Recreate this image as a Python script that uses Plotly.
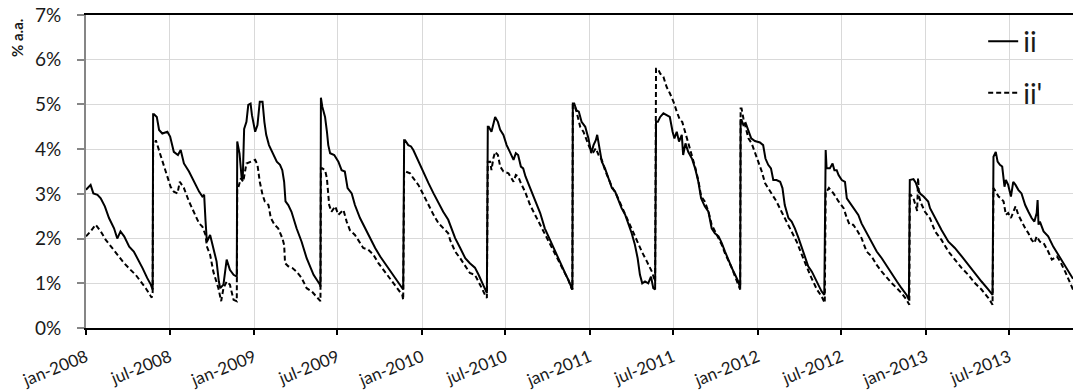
import plotly.graph_objects as go

# ---- series "ii" (solid) ----
ii_dates = [
    "2008-01-01","2008-01-11","2008-01-17","2008-01-26","2008-02-02","2008-02-11","2008-02-20","2008-03-02","2008-03-09","2008-03-16","2008-03-24","2008-04-04","2008-04-14","2008-04-22","2008-05-03","2008-05-13","2008-05-21","2008-05-25",
    "2008-05-26","2008-05-28","2008-06-03","2008-06-08","2008-06-15","2008-06-26","2008-07-02","2008-07-10","2008-07-19","2008-07-25","2008-08-01","2008-08-12","2008-08-23","2008-09-03","2008-09-10","2008-09-14","2008-09-17","2008-09-20","2008-09-27","2008-10-04","2008-10-11","2008-10-16","2008-10-19","2008-10-26","2008-11-02","2008-11-09","2008-11-17","2008-11-24",
    "2008-11-25","2008-11-30","2008-12-05","2008-12-07","2008-12-10","2008-12-15","2008-12-19","2008-12-24","2008-12-27","2009-01-03","2009-01-08","2009-01-13","2009-01-19","2009-01-23","2009-01-27","2009-02-02","2009-02-12","2009-02-19","2009-02-26","2009-03-03","2009-03-07","2009-03-10","2009-03-16","2009-03-23","2009-04-03","2009-04-14","2009-04-25","2009-05-02","2009-05-10","2009-05-17","2009-05-24","2009-05-25",
    "2009-05-26","2009-05-29","2009-06-04","2009-06-08","2009-06-11","2009-06-15","2009-06-24","2009-07-03","2009-07-10","2009-07-17","2009-07-23","2009-08-01","2009-08-08","2009-08-19","2009-08-30","2009-09-10","2009-09-21","2009-10-02","2009-10-12","2009-10-23","2009-11-03","2009-11-14","2009-11-21",
    "2009-11-23","2009-11-25","2009-12-02","2009-12-08","2009-12-13","2009-12-24","2010-01-04","2010-01-15","2010-01-26","2010-02-06","2010-02-16","2010-02-27","2010-03-03","2010-03-14","2010-03-25","2010-04-05","2010-04-15","2010-04-26","2010-05-04","2010-05-11","2010-05-18","2010-05-22",
    "2010-05-24","2010-05-26","2010-06-01","2010-06-05","2010-06-09","2010-06-15","2010-06-20","2010-06-27","2010-07-04","2010-07-11","2010-07-19","2010-07-24","2010-07-29","2010-08-04","2010-08-09","2010-08-14","2010-08-24","2010-09-04","2010-09-15","2010-09-25","2010-10-06","2010-10-17","2010-10-28","2010-11-08","2010-11-15","2010-11-22","2010-11-24",
    "2010-11-25","2010-11-28","2010-12-03","2010-12-08","2010-12-14","2010-12-22","2010-12-29","2011-01-04","2011-01-09","2011-01-14","2011-01-17","2011-01-22","2011-01-27","2011-02-03","2011-02-10","2011-02-18","2011-02-25","2011-03-03","2011-03-11","2011-03-19","2011-03-26","2011-04-02","2011-04-09","2011-04-15","2011-04-20","2011-04-25","2011-05-01","2011-05-08","2011-05-14","2011-05-19","2011-05-23",
    "2011-05-25","2011-05-29","2011-06-03","2011-06-10","2011-06-17","2011-06-24","2011-06-30","2011-07-04","2011-07-09","2011-07-14","2011-07-20","2011-07-23","2011-07-28","2011-08-03","2011-08-11","2011-08-18","2011-08-25","2011-08-31","2011-09-08","2011-09-16","2011-09-23","2011-09-30","2011-10-08","2011-10-15","2011-10-22","2011-10-29","2011-11-06","2011-11-13","2011-11-20","2011-11-24",
    "2011-11-25","2011-11-27","2011-12-01","2011-12-06","2011-12-12","2011-12-18","2011-12-26","2012-01-06","2012-01-13","2012-01-18","2012-01-24","2012-01-30","2012-02-04","2012-02-11","2012-02-19","2012-02-24","2012-02-29","2012-03-08","2012-03-15","2012-03-22","2012-03-30","2012-04-06","2012-04-13","2012-04-20","2012-04-28","2012-05-09","2012-05-19","2012-05-25",
    "2012-05-28","2012-05-30","2012-06-06","2012-06-12","2012-06-16","2012-06-21","2012-06-25","2012-07-02","2012-07-09","2012-07-13","2012-07-20","2012-07-27","2012-08-07","2012-08-14","2012-08-25","2012-09-05","2012-09-16","2012-09-27","2012-10-08","2012-10-19","2012-10-30","2012-11-09","2012-11-20","2012-11-25",
    "2012-11-27","2012-12-05","2012-12-10","2012-12-15","2012-12-20","2012-12-27","2013-01-06","2013-01-10","2013-01-21","2013-02-04","2013-02-19","2013-03-05","2013-03-20","2013-04-03","2013-04-18","2013-05-02","2013-05-17","2013-05-26",
    "2013-05-28","2013-06-02","2013-06-06","2013-06-11","2013-06-16","2013-06-21","2013-06-24","2013-06-29","2013-07-05","2013-07-10","2013-07-15","2013-07-21","2013-07-28","2013-08-05","2013-08-12","2013-08-19","2013-08-25","2013-08-30","2013-09-01","2013-09-03","2013-09-06","2013-09-14","2013-09-24","2013-10-05","2013-10-16","2013-10-27","2013-11-07","2013-11-17",
]
ii_values = [
    3.09,3.20,3.01,2.98,2.90,2.72,2.46,2.23,2.00,2.16,2.05,1.82,1.71,1.56,1.34,1.12,0.97,0.86,
    4.78,4.78,4.72,4.43,4.35,4.39,4.28,3.94,3.87,3.98,3.68,3.50,3.27,3.05,2.94,2.98,2.40,1.93,2.08,1.79,1.49,1.04,0.89,0.97,1.53,1.30,1.19,1.15,
    4.17,3.90,3.31,3.35,4.45,4.61,4.99,5.02,4.76,4.39,4.54,5.06,5.06,4.61,4.32,4.09,3.87,3.72,3.65,3.53,3.27,2.83,2.75,2.60,2.23,1.93,1.56,1.38,1.19,1.08,0.97,0.92,
    5.15,4.95,4.72,4.40,4.09,3.91,3.87,3.72,3.53,3.50,3.13,3.01,2.75,2.46,2.23,2.01,1.79,1.60,1.45,1.30,1.12,0.97,0.86,
    4.20,4.20,4.09,4.06,3.98,3.72,3.46,3.24,3.01,2.79,2.60,2.42,2.31,2.01,1.79,1.56,1.45,1.35,1.19,1.04,0.86,0.78,
    4.50,4.50,4.39,4.54,4.72,4.61,4.43,4.32,4.09,3.94,3.76,3.91,3.87,3.61,3.57,3.39,3.13,2.83,2.57,2.23,1.97,1.71,1.45,1.23,1.08,0.89,0.86,
    5.02,5.02,4.87,4.84,4.61,4.50,4.24,3.91,4.09,4.20,4.32,4.06,3.72,3.57,3.35,3.13,3.05,2.90,2.68,2.53,2.34,2.12,1.86,1.56,1.19,1.00,1.04,1.00,1.15,0.89,0.86,
    4.61,4.61,4.72,4.80,4.76,4.72,4.39,4.24,4.39,4.17,4.32,3.87,4.13,3.94,3.79,3.57,3.27,2.90,2.72,2.60,2.23,2.12,2.05,1.90,1.71,1.53,1.34,1.19,1.04,0.89,
    4.65,4.65,4.54,4.58,4.39,4.24,4.18,4.15,4.09,3.79,3.65,3.57,3.31,3.31,3.27,3.13,2.75,2.46,2.38,2.23,2.01,1.79,1.55,1.38,1.26,1.04,0.82,0.74,
    3.98,3.57,3.57,3.68,3.53,3.53,3.42,3.31,3.27,2.90,2.79,2.68,2.53,2.34,2.12,1.90,1.71,1.56,1.38,1.19,1.04,0.89,0.74,0.63,
    3.31,3.33,3.25,3.10,3.00,2.94,2.83,2.68,2.46,2.19,1.93,1.79,1.60,1.41,1.23,1.04,0.86,0.74,
    3.83,3.94,3.72,3.65,3.61,3.16,3.31,3.20,2.94,3.27,3.20,3.09,3.01,2.75,2.60,2.46,2.38,2.57,2.86,2.31,2.38,2.16,2.05,1.82,1.64,1.45,1.26,1.10,
]

# ---- series "ii'" (dashed) ----
iip_dates = [
    "2008-01-01","2008-01-11","2008-01-22","2008-02-02","2008-02-13","2008-02-24","2008-03-09","2008-03-24","2008-04-07","2008-04-18","2008-04-29","2008-05-10","2008-05-21","2008-05-23","2008-05-25",
    "2008-05-26","2008-05-29","2008-06-01","2008-06-11","2008-06-22","2008-07-03","2008-07-10","2008-07-18","2008-07-23","2008-08-01","2008-08-12","2008-08-23","2008-09-03","2008-09-10","2008-09-17","2008-09-20","2008-09-27","2008-10-04","2008-10-15","2008-10-21","2008-10-26","2008-11-02","2008-11-09","2008-11-17","2008-11-24",
    "2008-11-25","2008-11-27","2008-12-03","2008-12-08","2008-12-15","2008-12-23","2009-01-03","2009-01-08","2009-01-13","2009-01-19","2009-01-24","2009-02-01","2009-02-06","2009-02-14","2009-02-22","2009-03-03","2009-03-07","2009-03-09","2009-03-16","2009-03-25","2009-04-03","2009-04-14","2009-04-25","2009-05-06","2009-05-13","2009-05-24","2009-05-25",
    "2009-05-26","2009-05-29","2009-06-04","2009-06-08","2009-06-13","2009-06-18","2009-06-26","2009-07-03","2009-07-14","2009-07-21","2009-07-28","2009-08-08","2009-08-15","2009-08-26","2009-09-06","2009-09-17","2009-09-28","2009-10-09","2009-10-20","2009-10-31","2009-11-10","2009-11-19","2009-11-21",
    "2009-11-23","2009-11-26","2009-12-06","2009-12-13","2009-12-24","2010-01-04","2010-01-15","2010-01-26","2010-02-06","2010-02-16","2010-02-27","2010-03-03","2010-03-14","2010-03-25","2010-04-05","2010-04-15","2010-04-26","2010-05-04","2010-05-11","2010-05-18","2010-05-22",
    "2010-05-24","2010-05-29","2010-06-01","2010-06-05","2010-06-09","2010-06-15","2010-06-20","2010-06-27","2010-07-08","2010-07-15","2010-07-19","2010-07-24","2010-07-29","2010-08-04","2010-08-13","2010-08-24","2010-09-04","2010-09-15","2010-09-25","2010-10-06","2010-10-17","2010-10-28","2010-11-08","2010-11-15","2010-11-22","2010-11-24",
    "2010-11-25","2010-11-28","2010-12-03","2010-12-11","2010-12-18","2010-12-25","2011-01-01","2011-01-09","2011-01-14","2011-01-20","2011-01-27","2011-02-03","2011-02-10","2011-02-18","2011-02-28","2011-03-11","2011-03-22","2011-04-02","2011-04-13","2011-04-24","2011-05-05","2011-05-16","2011-05-23",
    "2011-05-25","2011-05-29","2011-06-03","2011-06-10","2011-06-17","2011-06-24","2011-07-02","2011-07-09","2011-07-16","2011-07-21","2011-07-27","2011-08-03","2011-08-11","2011-08-18","2011-08-25","2011-08-31","2011-09-08","2011-09-16","2011-09-23","2011-09-30","2011-10-08","2011-10-15","2011-10-22","2011-10-29","2011-11-06","2011-11-13","2011-11-20","2011-11-24",
    "2011-11-25","2011-11-27","2011-12-01","2011-12-06","2011-12-12","2011-12-19","2011-12-26","2012-01-03","2012-01-10","2012-01-17","2012-01-24","2012-02-02","2012-02-11","2012-02-22","2012-03-04","2012-03-15","2012-03-26","2012-04-06","2012-04-17","2012-04-24","2012-04-28","2012-05-09","2012-05-19","2012-05-26",
    "2012-05-28","2012-05-30","2012-06-04","2012-06-14","2012-06-25","2012-07-06","2012-07-13","2012-07-19","2012-07-27","2012-08-04","2012-08-14","2012-08-25","2012-09-05","2012-09-16","2012-09-27","2012-10-08","2012-10-19","2012-10-30","2012-11-09","2012-11-20","2012-11-26",
    "2012-11-27","2012-11-29","2012-12-05","2012-12-10","2012-12-13","2012-12-15","2012-12-17","2012-12-21","2012-12-30","2013-01-10","2013-01-21","2013-02-04","2013-02-19","2013-03-05","2013-03-20","2013-04-03","2013-04-18","2013-05-02","2013-05-17","2013-05-26",
    "2013-05-28","2013-06-02","2013-06-08","2013-06-13","2013-06-19","2013-06-24","2013-06-29","2013-07-05","2013-07-10","2013-07-15","2013-07-21","2013-07-28","2013-08-05","2013-08-12","2013-08-19","2013-08-25","2013-08-30","2013-09-06","2013-09-14","2013-09-24","2013-10-02","2013-10-13","2013-10-20","2013-10-31","2013-11-11","2013-11-17",
]
iip_values = [
    2.05,2.16,2.31,2.16,1.97,1.82,1.64,1.45,1.30,1.19,1.04,0.89,0.71,0.68,0.80,
    4.09,4.09,4.20,3.87,3.50,3.16,3.05,3.01,3.27,3.13,2.83,2.60,2.34,2.27,2.08,1.82,1.64,1.26,0.89,0.60,0.89,1.04,0.97,0.63,0.60,
    3.13,3.13,3.35,3.27,3.68,3.72,3.76,3.65,3.27,2.98,2.83,2.75,2.46,2.31,2.23,2.01,1.86,1.45,1.38,1.34,1.26,1.12,0.89,0.82,0.74,0.63,0.60,
    3.57,3.57,3.53,3.35,2.75,2.60,2.72,2.53,2.64,2.38,2.19,2.08,1.97,1.79,1.75,1.64,1.45,1.30,1.15,1.00,0.86,0.74,0.63,
    3.50,3.50,3.46,3.35,3.20,2.98,2.75,2.53,2.34,2.23,2.12,1.97,1.71,1.56,1.38,1.23,1.19,1.04,0.89,0.74,0.67,
    3.72,3.72,3.53,3.79,3.94,3.87,3.61,3.50,3.46,3.35,3.27,3.42,3.39,3.24,3.05,2.75,2.53,2.31,2.12,1.90,1.67,1.45,1.23,1.08,0.89,0.86,
    4.99,4.99,4.84,4.50,4.39,4.20,4.02,3.94,4.02,3.87,3.76,3.53,3.35,3.16,2.98,2.72,2.46,2.23,1.97,1.71,1.49,1.26,1.04,
    5.80,5.80,5.69,5.62,5.39,5.25,5.06,4.84,4.65,4.61,4.40,4.10,3.83,3.60,3.30,2.95,2.83,2.60,2.31,2.16,2.01,1.86,1.67,1.53,1.34,1.15,0.97,0.86,
    4.91,4.91,4.69,4.46,4.24,4.13,3.94,3.72,3.50,3.24,3.13,2.98,2.83,2.60,2.38,2.16,1.93,1.64,1.34,1.19,1.10,0.86,0.71,0.56,
    3.05,3.05,3.13,3.01,2.83,2.68,2.46,2.31,2.31,2.19,2.01,1.71,1.60,1.41,1.26,1.12,1.00,0.89,0.78,0.63,0.52,
    2.98,2.98,2.90,2.72,2.62,3.36,2.95,2.80,2.60,2.45,2.16,1.97,1.71,1.53,1.34,1.19,1.00,0.86,0.67,0.52,
    3.13,3.05,2.94,2.90,2.83,2.53,2.57,2.46,2.60,2.72,2.53,2.38,2.23,2.12,1.97,1.90,2.05,1.93,1.90,1.71,1.53,1.60,1.49,1.26,1.00,0.86,
]

# ---- axes ----
tick_dates = ["2008-01-01","2008-07-01","2009-01-01","2009-07-01","2010-01-01","2010-07-01",
              "2011-01-01","2011-07-01","2012-01-01","2012-07-01","2013-01-01","2013-07-01"]
tick_labels = ["jan-2008","jul-2008","jan-2009","jul-2009","jan-2010","jul-2010",
               "jan-2011","jul-2011","jan-2012","jul-2012","jan-2013","jul-2013"]
y_ticks = [0, 1, 2, 3, 4, 5, 6, 7]
y_labels = ["0%", "1%", "2%", "3%", "4%", "5%", "6%", "7%"]
x_range = ["2008-01-01", "2013-11-17"]

fig = go.Figure()
fig.add_trace(go.Scatter(x=ii_dates, y=ii_values, mode="lines", name="ii",
                         legendgroup="g1",
                         line=dict(color="black", width=2)))
fig.add_trace(go.Scatter(x=iip_dates, y=iip_values, mode="lines", name="ii'",
                         legendgroup="g2",
                         line=dict(color="black", width=2, dash="5px,3px")))

fig.update_layout(
    width=1073, height=390,
    margin=dict(l=86, r=0, t=15, b=62),
    paper_bgcolor="white", plot_bgcolor="white",
    font=dict(family="Lato, Carlito, sans-serif", color="#1a1a1a"),
    showlegend=True,
    legend=dict(x=0.909, y=0.995, xanchor="left", yanchor="top",
                bgcolor="rgba(0,0,0,0)", font=dict(size=28),
                tracegroupgap=12),
)
fig.update_xaxes(
    type="date", range=x_range,
    tickmode="array", tickvals=tick_dates, ticktext=tick_labels,
    tickangle=-22, tickfont=dict(size=17),
    ticklabelstandoff=6,
    showgrid=True, gridcolor="#d9d9d9", gridwidth=1,
    ticks="outside", ticklen=5, tickwidth=2, tickcolor="black",
    showline=True, linecolor="black", linewidth=2, mirror=True,
    zeroline=False,
)
fig.update_yaxes(
    range=[0, 7], tickmode="array", tickvals=y_ticks, ticktext=y_labels,
    tickfont=dict(size=19),
    showgrid=True, gridcolor="#d9d9d9", gridwidth=1,
    ticks="outside", ticklen=7, tickwidth=1.5, tickcolor="#868686",
    ticklabelstandoff=12,
    showline=True, linecolor="#868686", linewidth=2,
    zeroline=False,
)
fig.add_annotation(text="<b>% a.a.</b>", textangle=-90,
                   xref="paper", yref="paper", x=-0.0694, y=0.925,
                   xanchor="center", yanchor="middle",
                   showarrow=False, font=dict(size=15, color="#1a1a1a"))

fig.write_html("out.html")
